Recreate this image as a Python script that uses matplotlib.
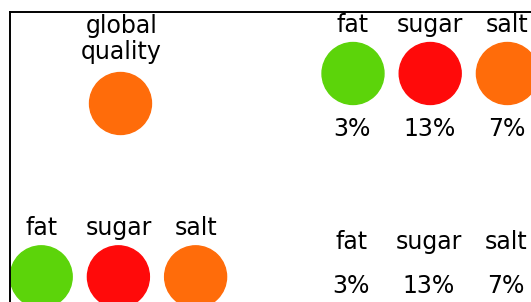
import matplotlib
matplotlib.use("Agg")
import matplotlib.pyplot as plt

# data
nutrients = ["fat", "sugar", "salt"]
percents = [3, 13, 7]
nutrient_colors = ["#5cd40a", "#ff0a0a", "#ff6c0a"]
global_label = "global\nquality"
global_color = "#ff6c0a"

W, H = 531, 302
fig = plt.figure(figsize=(W / 100, H / 100), dpi=100)
# axes in pixel units, right/bottom edges run off the figure
ax = fig.add_axes([10 / W, 0, (W - 10) / W, (H - 12) / H])
ax.set_xlim(10, W)
ax.set_ylim(H, 12)
ax.set_xticks([])
ax.set_yticks([])
ax.spines["right"].set_visible(False)
ax.spines["bottom"].set_visible(False)
ax.spines["left"].set_linewidth(1.4)
ax.spines["top"].set_linewidth(1.4)

fs = 17
size = 1990  # circle area in pt^2, ~62 px diameter
step = 77.2
cols = range(len(nutrients))

# global quality
ax.scatter([120.2], [102.5], s=size, color=global_color, clip_on=True)
ax.text(121.5, 33.3, "global", fontsize=fs, ha="center", va="baseline")
ax.text(121.5, 59.5, "quality", fontsize=fs, ha="center", va="baseline")

# top right: circles with labels and percents
x0 = 353.0
xs = [x0 + i * step for i in cols]
ax.scatter(xs, [73.5] * len(xs), s=size, color=nutrient_colors)
for x, name, p in zip(xs, nutrients, percents):
    ax.text(x, 31.7, name, fontsize=fs, ha="center", va="baseline")
    ax.text(x - 1, 136, f"{p}%", fontsize=fs, ha="center", va="baseline")

# bottom left: circles with labels
x0 = 41.2
xs = [x0 + i * step for i in cols]
ax.scatter(xs, [276.8] * len(xs), s=size, color=nutrient_colors)
for x, name in zip(xs, nutrients):
    ax.text(x, 235, name, fontsize=fs, ha="center", va="baseline")

# bottom right: labels and percents only
x0 = 351.5
xs = [x0 + i * step for i in cols]
for x, name, p in zip(xs, nutrients, percents):
    ax.text(x, 249.3, name, fontsize=fs, ha="center", va="baseline")
    ax.text(x - 0.5, 293.3, f"{p}%", fontsize=fs, ha="center", va="baseline")

fig.savefig("out.png", dpi=100)
